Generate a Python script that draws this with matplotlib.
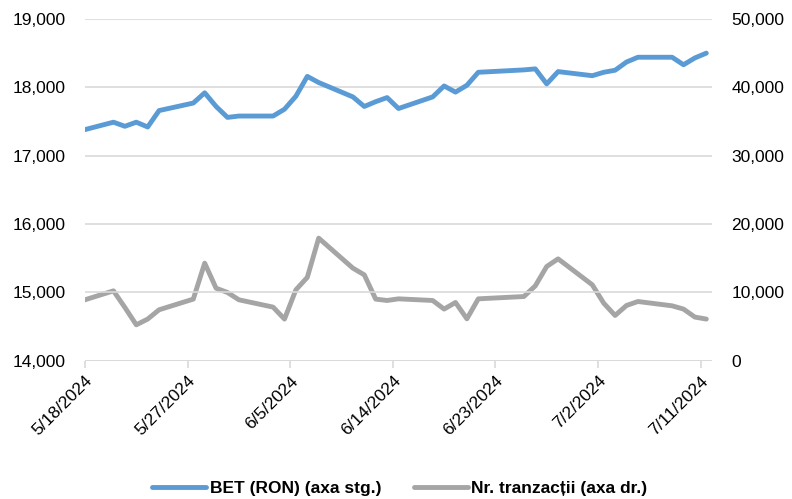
import matplotlib
matplotlib.use("Agg")
import matplotlib.pyplot as plt
import numpy as np
import datetime as dt

# trading days (6/24 holiday missing); first point falls just left of the axis
dates = ['2024-05-17', '2024-05-20', '2024-05-21', '2024-05-22', '2024-05-23', '2024-05-24',
         '2024-05-27', '2024-05-28', '2024-05-29', '2024-05-30', '2024-05-31',
         '2024-06-03', '2024-06-04', '2024-06-05', '2024-06-06', '2024-06-07',
         '2024-06-10', '2024-06-11', '2024-06-12', '2024-06-13', '2024-06-14',
         '2024-06-17', '2024-06-18', '2024-06-19', '2024-06-20', '2024-06-21',
         '2024-06-25', '2024-06-26', '2024-06-27', '2024-06-28',
         '2024-07-01', '2024-07-02', '2024-07-03', '2024-07-04', '2024-07-05',
         '2024-07-08', '2024-07-09', '2024-07-10', '2024-07-11']

bet = [17360, 17490, 17430, 17490, 17420, 17660,
       17770, 17920, 17720, 17560, 17580,
       17580, 17680, 17870, 18160, 18070,
       17860, 17720, 17790, 17850, 17690,
       17860, 18020, 17930, 18030, 18220,
       18255, 18270, 18050, 18230,
       18170, 18220, 18250, 18370, 18440,
       18440, 18330, 18430, 18500]

tranzactii = [8660, 10230, 7800, 5260, 6100, 7460,
              9020, 14280, 10620, 9990, 8920,
              7850, 6100, 10380, 12200, 17940,
              13550, 12570, 9020, 8820, 9060,
              8820, 7560, 8530, 6140, 9060,
              9400, 10960, 13790, 14910,
              11110, 8430, 6630, 8090, 8670,
              8040, 7560, 6390, 6100]

# points sit in the middle of their day, as on an Excel date axis
x = [dt.datetime.strptime(d, '%Y-%m-%d') + dt.timedelta(hours=12) for d in dates]

plt.rcParams['font.family'] = ['Liberation Sans', 'DejaVu Sans']

fig = plt.figure(figsize=(7.92, 4.99), dpi=100)
ax = fig.add_axes([0.1073, 0.277, 0.7917, 0.685])
ax2 = ax.twinx()

l1, = ax.plot(x, bet, color='#5B9BD5', lw=3.5, solid_joinstyle='round', solid_capstyle='round',
              zorder=3, label='BET (RON) (axa stg.)')
l2, = ax2.plot(x, tranzactii, color='#A5A5A5', lw=3.5, solid_joinstyle='round', solid_capstyle='round',
               label='Nr. tranzacții (axa dr.)')

ax.set_ylim(14000, 19000)
ax.set_yticks(np.arange(14000, 19001, 1000))
ax2.set_ylim(0, 50000)
ax2.set_yticks(np.arange(0, 50001, 10000))
fmt = matplotlib.ticker.FuncFormatter(lambda v, p: f'{v:,.0f}')
ax.yaxis.set_major_formatter(fmt)
ax2.yaxis.set_major_formatter(fmt)

start = dt.datetime(2024, 5, 18)
ax.set_xlim(start, dt.datetime(2024, 7, 12))
ticks = [start + dt.timedelta(days=9 * i) for i in range(7)]
ax.set_xticks(ticks)
ax.set_xticklabels([f'{t.month}/{t.day}/{t.year}' for t in ticks], rotation=45, ha='right',
                   rotation_mode='anchor', fontsize=12.5, color='black')

ax.grid(axis='y', color='#D9D9D9', lw=1.2)
ax.set_axisbelow(True)
for a in (ax, ax2):
    for s in ['top', 'left', 'right', 'bottom']:
        a.spines[s].set_visible(False)
ax.axhline(14000, color='#D9D9D9', lw=1.2, zorder=1)

ax.tick_params(axis='y', length=0, labelsize=12.5, labelcolor='black', pad=14)
ax2.tick_params(axis='y', length=0, labelsize=12.5, labelcolor='black', pad=14)
ax.tick_params(axis='x', length=5, color='#D9D9D9', width=1.2, pad=4)

ax.set_zorder(ax2.get_zorder() + 1)
ax.patch.set_visible(False)

fig.legend([l1, l2], [l1.get_label(), l2.get_label()], loc='lower center',
           bbox_to_anchor=(0.505, -0.025), ncol=2, frameon=False, handlelength=3.1,
           handletextpad=0.2, columnspacing=1.9, prop={'weight': 'bold', 'size': 12.5})

fig.savefig('out.png', dpi=100)
